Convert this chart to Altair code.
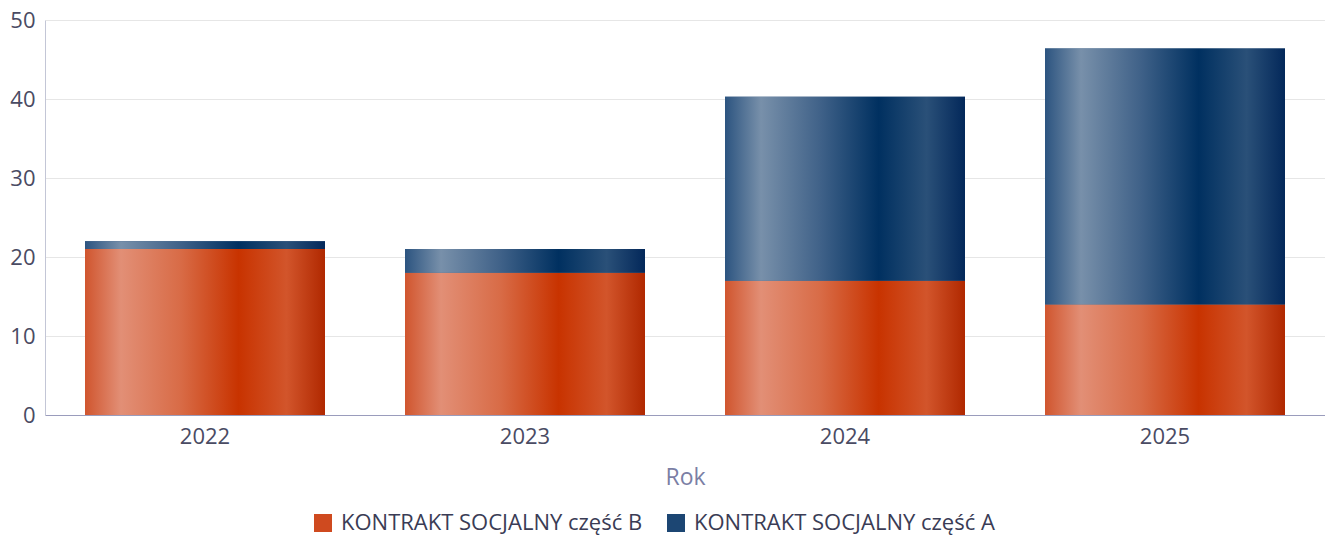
import altair as alt
import pandas as pd

years = ["2022", "2023", "2024", "2025"]
part_b = [21, 18, 17, 14]
part_a = [1, 3, 23.3, 32.4]
series_names = ["KONTRAKT SOCJALNY część B", "KONTRAKT SOCJALNY część A"]
series_solid = ["#cf4a1f", "#1c4673"]
y_ticks = [0, 10, 20, 30, 40, 50]

df = pd.DataFrame({"Rok": years, "B": part_b, "A": part_a})

FONT = "Open Sans"


def grad(stops):
    return alt.LinearGradient(
        gradient="linear", x1=0, x2=1, y1=0, y2=0,
        stops=[alt.GradientStop(offset=o, color=c) for o, c in stops],
    )


orange_grad = grad([(0, "#d0552e"), (0.15, "#e28f76"), (0.4, "#d86b46"),
                    (0.64, "#c83300"), (0.84, "#d2552b"), (1, "#b02800")])
blue_grad = grad([(0, "#2c5480"), (0.15, "#7890aa"), (0.4, "#3f6188"),
                  (0.64, "#003060"), (0.84, "#2a5078"), (1, "#03285a")])

x_enc = alt.X(
    "Rok:N", title="Rok", sort=years,
    scale=alt.Scale(paddingInner=0.25, paddingOuter=0.125),
    axis=alt.Axis(labelAngle=0, ticks=False, labelPadding=11, labelFontSize=22,
                  labelColor="#4a4b63", domainColor="#9a9cbc", titleFontSize=23,
                  titleColor="#7b7fa5", titleFontWeight="normal", titlePadding=19),
)
y_scale = alt.Scale(domain=[0, 50], nice=False)
y_axis = alt.Axis(values=y_ticks, title=None, ticks=False, labelPadding=10,
                  labelFontSize=22, labelColor="#4a4b63", domainColor="#c3c6d6",
                  gridColor="#e6e6e6")

base = alt.Chart(df).transform_calculate(total="datum.B + datum.A")

# solid layer that carries the legend
legend_layer = base.transform_fold(["B", "A"], as_=["key", "val"]).transform_calculate(
    series="datum.key == 'B' ? 'KONTRAKT SOCJALNY część B' : 'KONTRAKT SOCJALNY część A'",
    lo="datum.key == 'B' ? 0 : datum.B",
    hi="datum.key == 'B' ? datum.B : datum.total",
).mark_bar().encode(
    x=x_enc,
    y=alt.Y("lo:Q", scale=y_scale, axis=y_axis),
    y2="hi:Q",
    color=alt.Color(
        "series:N",
        scale=alt.Scale(domain=series_names, range=series_solid),
        legend=alt.Legend(
            title=None, orient="none", direction="horizontal", legendX=267, legendY=492,
            symbolType="square", symbolSize=324, symbolStrokeWidth=0,
            labelFontSize=22, labelColor="#3a3c55", labelFont=FONT, labelLimit=500,
            labelOffset=7, columnPadding=22,
        ),
    ),
)

b_layer = base.mark_bar(color=orange_grad).encode(
    x=x_enc, y=alt.Y("B:Q", scale=y_scale, axis=y_axis), y2=alt.datum(0)
)
a_layer = base.mark_bar(color=blue_grad).encode(
    x=x_enc, y=alt.Y("B:Q", scale=y_scale, axis=y_axis), y2="total:Q"
)

chart = alt.layer(legend_layer, b_layer, a_layer).properties(
    width=1280, height=395,
    autosize=alt.AutoSizeParams(type="none"),
    padding={"left": 45, "top": 20, "right": 0, "bottom": 122},
).configure(font=FONT).configure_view(stroke=None).configure_axis(
    labelFont=FONT, titleFont=FONT
)

chart.save("out.html", embed_options={"renderer": "svg", "actions": False})
